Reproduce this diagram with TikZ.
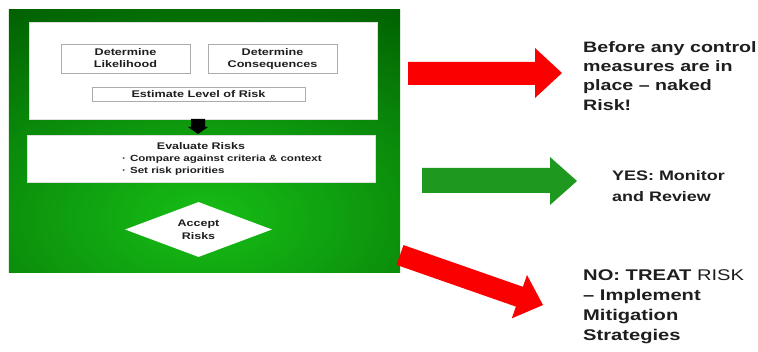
\documentclass[tikz,border=0pt]{standalone}
\usepackage{fontspec}
\setmainfont{Liberation Sans}[FakeStretch=1.3]
\usetikzlibrary{shapes.geometric,calc}
\definecolor{dkgreen}{RGB}{0,92,0}
\definecolor{ltgreen}{RGB}{22,190,22}
\definecolor{arrowred}{RGB}{250,0,0}
\definecolor{arrowgreen}{RGB}{30,152,30}
\definecolor{txt}{RGB}{30,30,30}
\begin{document}
\begin{tikzpicture}[x=1pt,y=-1pt,
  panel/.style={draw=gray!25, line width=0.4pt, fill=white, inner sep=0pt},
  stepbox/.style={draw=gray!65, line width=0.6pt, fill=white, inner sep=0pt, align=center,
    font=\fontsize{9.7}{12}\selectfont\bfseries, text=txt},
  ptext/.style={inner sep=0pt, text=txt, font=\fontsize{9.6}{12}\selectfont\bfseries},
  rtext/.style={inner sep=0pt, text=txt, align=left, anchor=north west}
]
\useasboundingbox (0,0) rectangle (758,352);
\fill[white] (0,0) rectangle (758,352);
% green frame
\node[fill=dkgreen, minimum width=391pt, minimum height=262pt, inner sep=0pt] (frame) at (204.5,141) {};
\begin{scope}
  \clip (frame.north west) rectangle (frame.south east);
  \shade[inner color=ltgreen, outer color=dkgreen] (205,218) ellipse [x radius=430, y radius=250];
\end{scope}
% upper panel
\node[panel, minimum width=348pt, minimum height=97pt] (upper) at (203,70.5) {};
\node[stepbox, minimum width=129pt, minimum height=29pt] (like) at (125.5,58.5) {Determine\\Likelihood};
\node[stepbox, minimum width=129pt, minimum height=29pt] (cons) at (272.5,58.5) {Determine\\Consequences};
\node[stepbox, minimum width=213pt, minimum height=14pt] (est) at (198.5,94) {Estimate Level of Risk};
% evaluate panel
\node[panel, minimum width=348pt, minimum height=47pt] (eval) at (201,158.5) {};
\node[ptext, anchor=base] (evt) at (201,150) {Evaluate Risks};
\node[ptext, anchor=base west, font=\fontsize{8.9}{12}\selectfont\bfseries] (b1) at (122,162) {·\hspace{4pt}Compare against criteria \& context};
\node[ptext, anchor=base west, font=\fontsize{8.9}{12}\selectfont\bfseries] (b2) at (122,174) {·\hspace{4pt}Set risk priorities};
% black down arrow
\coordinate (da) at (198,119);
\fill[black] ($(da)+(-7,0)$) -- ($(da)+(7,0)$) -- ($(da)+(7,8)$) -- ($(da)+(10,8)$) -- ($(da)+(0,15)$) -- ($(da)+(-10,8)$) -- ($(da)+(-7,8)$) -- cycle;
% diamond
\node[diamond, fill=white, aspect=2.67, minimum width=147pt, minimum height=55pt, inner sep=0pt,
  align=center, text=txt, font=\fontsize{9.6}{13.5}\selectfont\bfseries] (acc) at (198.5,229.5) {Accept\\Risks};
% right arrows
\fill[arrowred] (408,62) -- (535,62) -- (535,48) -- (562,73) -- (535,98) -- (535,85) -- (408,85) -- cycle;
\fill[arrowgreen] (422,168) -- (550,168) -- (550,157) -- (577,181) -- (550,205) -- (550,193) -- (422,193) -- cycle;
\fill[arrowred] (403.5,245.1) -- (522.9,286.8) -- (527.0,275.0) -- (543,305) -- (511.8,318.4) -- (515.9,306.6) -- (396.5,264.9) -- cycle;
% right texts
\node[rtext, font=\fontsize{15.1}{19.3}\selectfont\bfseries] (t1) at (583,41) {Before any control\\measures are in\\place – naked\\Risk!};
\node[rtext, font=\fontsize{13.8}{21.5}\selectfont\bfseries] (t2) at (612,170) {YES: Monitor\\and Review};
\node[rtext, font=\fontsize{15.5}{20}\selectfont\bfseries] (t3) at (583,269) {NO: TREAT {\mdseries RISK}\\– Implement\\Mitigation\\Strategies};
\end{tikzpicture}
\end{document}
